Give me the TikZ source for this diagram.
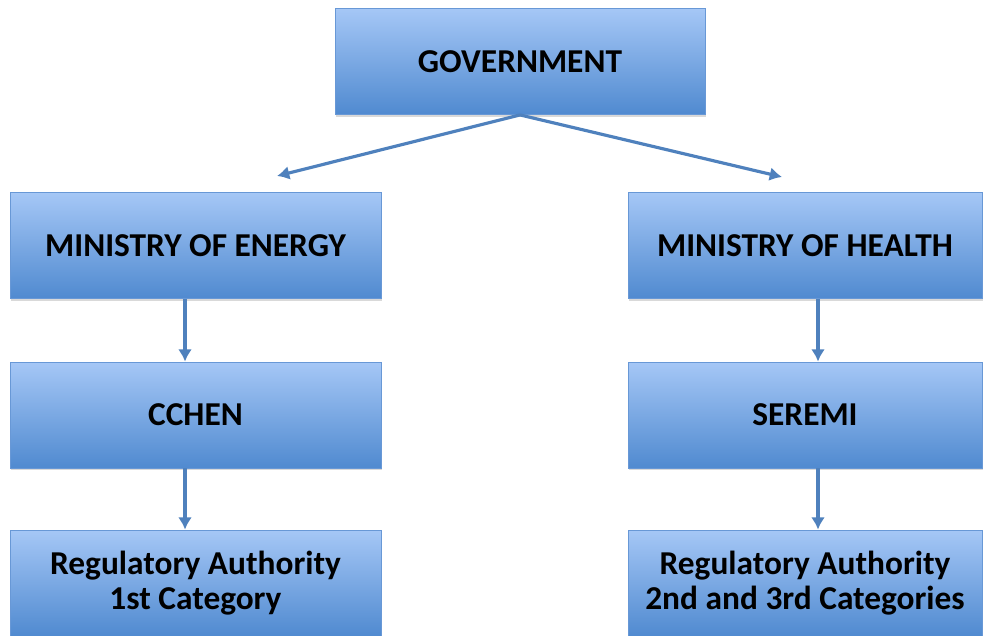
\documentclass[tikz,border=0pt]{standalone}
\usepackage{fontspec}
\setmainfont{Carlito}
\usetikzlibrary{arrows.meta,shadows}

\definecolor{boxtop}{RGB}{165,199,246}
\definecolor{boxbot}{RGB}{80,138,208}
\definecolor{boxline}{RGB}{104,152,214}
\definecolor{linkblue}{RGB}{79,129,189}

\begin{document}
\begin{tikzpicture}[x=0.02cm,y=-0.02cm,
  orgbox/.style={draw=boxline, line width=0.5pt, top color=boxtop, bottom color=boxbot,
    minimum height=2.12cm, inner sep=0pt, align=center,
    font=\bfseries\fontsize{19}{20}\selectfont,
    drop shadow={opacity=0.3, shadow xshift=0.6pt, shadow yshift=-1.3pt}},
  leftbox/.style={orgbox, minimum width=7.42cm},
  rightbox/.style={orgbox, minimum width=7.08cm},
  link/.style={draw=linkblue, line width=1.8pt, -{Latex[length=7pt,width=8pt]}}]
\useasboundingbox (0,0) rectangle (986,635);
\coordinate (g) at (520,61.5);
\coordinate (le) at (277,176);
\coordinate (re) at (782,177);
\coordinate (l1) at (195.5,245.5);
\coordinate (l2) at (195.5,415);
\coordinate (l3) at (195.5,583);
\coordinate (r1) at (805,245.5);
\coordinate (r2) at (805,415);
\coordinate (r3) at (805,583);

\node[orgbox, minimum width=7.4cm] (gov) at (g) {GOVERNMENT};
\node[leftbox] (energy) at (l1) {MINISTRY OF ENERGY};
\node[leftbox] (cchen) at (l2) {CCHEN};
\node[leftbox] (ra1) at (l3) {Regulatory Authority\\1st Category};
\node[rightbox] (health) at (r1) {MINISTRY OF HEALTH};
\node[rightbox] (seremi) at (r2) {SEREMI};
\node[rightbox] (ra23) at (r3) {Regulatory Authority\\2nd and 3rd Categories};

% government splits into the two ministries
\draw[link] (gov.south) -- (le);
\draw[link] (gov.south) -- (re);

% chains under each ministry
\draw[link] ([xshift=-0.21cm]energy.south) -- ([xshift=-0.21cm]cchen.north);
\draw[link] ([xshift=-0.21cm]cchen.south) -- ([xshift=-0.21cm]ra1.north);
\draw[link] ([xshift=0.26cm]health.south) -- ([xshift=0.26cm]seremi.north);
\draw[link] ([xshift=0.26cm]seremi.south) -- ([xshift=0.26cm]ra23.north);

\end{tikzpicture}
\end{document}
